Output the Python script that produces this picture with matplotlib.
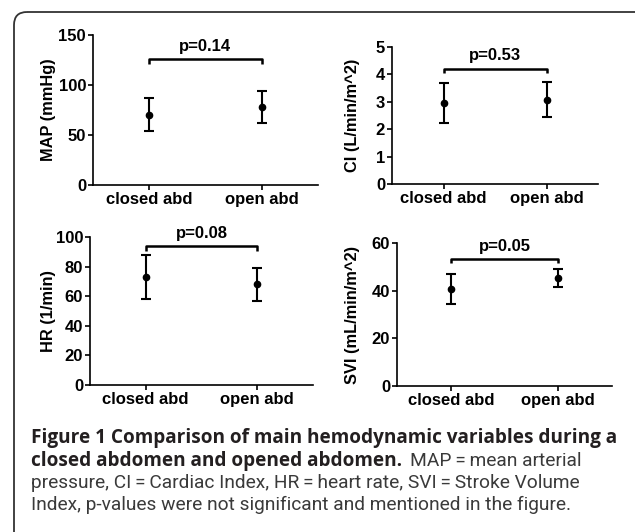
import matplotlib
matplotlib.use("Agg")
import matplotlib.pyplot as plt
from matplotlib.patches import FancyBboxPatch

W, H = 635, 532

# ---------------- data ----------------
groups = ["closed abd", "open abd"]

map_mean = [70.3, 78.4]
map_sd = [16.5, 16.0]

ci_mean = [2.97, 3.08]
ci_sd = [0.73, 0.64]

hr_mean = [72.8, 68.0]
hr_sd = [15.0, 11.2]

svi_mean = [40.7, 45.3]
svi_sd = [6.2, 3.8]

p_labels = ["p=0.14", "p=0.53", "p=0.08", "p=0.05"]
bracket_y = [125.7, 4.21, 93.7, 53.3]

y_labels = ["MAP (mmHg)", "CI (L/min/m^2)", "HR (1/min)", "SVI (mL/min/m^2)"]
y_max = [150, 5, 100, 60]
y_ticks = [[0, 50, 100, 150], [0, 1, 2, 3, 4, 5],
           [0, 20, 40, 60, 80, 100], [0, 20, 40, 60]]

means = [map_mean, ci_mean, hr_mean, svi_mean]
sds = [map_sd, ci_sd, hr_sd, svi_sd]

TS = "\u2009"  # thin space, as in the typeset caption
caption_bold_1 = "Figure 1 Comparison of main hemodynamic variables during a"
caption_bold_2 = "closed abdomen and opened abdomen."
caption_reg_2 = f"MAP{TS}={TS}mean arterial"
caption_reg_3 = (f"pressure, CI{TS}={TS}Cardiac Index, HR{TS}={TS}heart rate, "
                 f"SVI{TS}={TS}Stroke Volume")
caption_reg_4 = "Index, p-values were not significant and mentioned in the figure."

# ---------------- figure ----------------
fig = plt.figure(figsize=(W / 100, H / 100), dpi=100)
fig.patch.set_facecolor("white")

# background overlay axes in pixel coordinates for the frame
bg = fig.add_axes([0, 0, 1, 1])
bg.set_xlim(0, W)
bg.set_ylim(H, 0)
bg.axis("off")
frame = FancyBboxPatch((14, 12), 648 - 14, 560 - 12,
                       boxstyle="round,pad=0,rounding_size=13",
                       fill=False, edgecolor="#333333", linewidth=1.3)
bg.add_patch(frame)

# axes boxes in pixels: left, right, top, bottom
boxes = [(93, 318, 35, 185), (392, 598, 47, 184),
         (90, 313, 237, 385), (397, 612, 243, 386)]
label_x = [49, 352, 49, 352]

font = "Liberation Sans"

for i, (l, r, t, b) in enumerate(boxes):
    ax = fig.add_axes([l / W, 1 - b / H, (r - l) / W, (b - t) / H])
    ax.patch.set_alpha(0)
    x = [0, 1]
    ax.errorbar(x, means[i], yerr=sds[i], fmt="o", color="black",
                markersize=4.5, elinewidth=1.5, capsize=3.5, capthick=1.5,
                zorder=3)
    ax.set_xlim(-0.5, 1.5)
    ax.set_ylim(0, y_max[i])
    ax.set_yticks(y_ticks[i])
    ax.set_yticklabels([str(v) for v in y_ticks[i]], fontfamily=font,
                       fontweight="bold", fontsize=12)
    ax.set_xticks(x)
    ax.set_xticklabels(groups, fontfamily=font, fontweight="bold", fontsize=12)
    for s in ["top", "right"]:
        ax.spines[s].set_visible(False)
    for s in ["left", "bottom"]:
        ax.spines[s].set_linewidth(1.2)
        ax.spines[s].set_capstyle("projecting")
    ax.tick_params(axis="both", length=3.5, width=1.2, pad=1.5)
    ax.set_ylabel(y_labels[i], fontfamily=font, fontweight="bold", fontsize=11.8)
    ax.yaxis.set_label_coords(label_x[i] / W, 1 - ((t + b) / 2) / H,
                              transform=fig.transFigure)
    ax.yaxis.label.set_va("center")

    # significance bracket
    by = bracket_y[i]
    drop = 4.5 * y_max[i] / (b - t)
    ax.plot([0, 0, 1, 1], [by - drop, by, by, by - drop], color="black",
            linewidth=1.8, solid_capstyle="butt", clip_on=False)
    ax.annotate(p_labels[i], xy=(0.5, by), xytext=(0, 6),
                textcoords="offset points", ha="center", va="baseline",
                fontfamily=font, fontweight="bold", fontsize=12,
                annotation_clip=False)

# ---------------- caption ----------------
bold_font = ["Open Sans", "DejaVu Sans"]
reg_font = ["Roboto", "DejaVu Sans"]
bold_col = "#231f20"
reg_col = "#3a3a3a"
x0 = 31
baselines = [443, 466, 488, 510]

fig.canvas.draw()
renderer = fig.canvas.get_renderer()

def fit(s, family, weight, target):
    probe = fig.text(0, 0, s, fontfamily=family, fontweight=weight, fontsize=13)
    w = probe.get_window_extent(renderer).width
    probe.remove()
    return 13 * target / w

fs_b = fit(caption_bold_1, bold_font, "bold", 613 - 31)
fs_r = fit(caption_reg_3, reg_font, "normal", 579 - 31)

def put(xp, yp, s, family, weight, col, fs):
    return fig.text(xp / W, 1 - yp / H, s, fontfamily=family,
                    fontweight=weight, fontsize=fs, color=col,
                    ha="left", va="baseline")

put(x0, baselines[0], caption_bold_1, bold_font, "bold", bold_col, fs_b)
tb = put(x0, baselines[1], caption_bold_2, bold_font, "bold", bold_col, fs_b)
ext = tb.get_window_extent(renderer)
put(ext.x1 + 8, baselines[1], caption_reg_2, reg_font, "normal", reg_col, fs_r)
put(x0, baselines[2], caption_reg_3, reg_font, "normal", reg_col, fs_r)
put(x0, baselines[3], caption_reg_4, reg_font, "normal", reg_col, fs_r)

fig.savefig("out.png", dpi=100, facecolor="white")
